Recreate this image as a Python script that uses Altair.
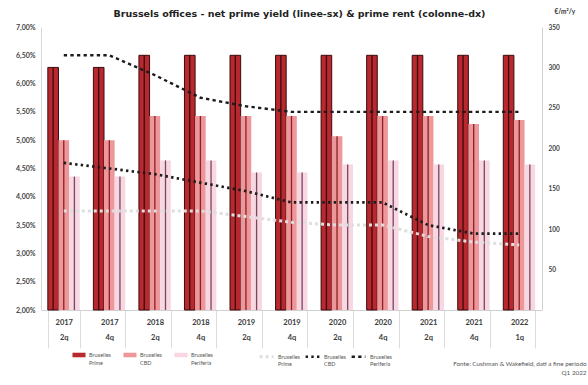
import altair as alt
import pandas as pd

FONT = "Lato"

periods = ["2017 2q", "2017 4q", "2018 2q", "2018 4q", "2019 2q", "2019 4q",
           "2020 2q", "2020 4q", "2021 2q", "2021 4q", "2022 1q"]

# prime rent, €/m²/year (right axis, columns)
bar_series = ["Bruxelles Prime", "Bruxelles CBD", "Bruxelles Periferia"]
rent_prime = [300, 300, 315, 315, 315, 315, 315, 315, 315, 315, 315]
rent_cbd = [210, 210, 240, 240, 240, 240, 215, 240, 240, 230, 235]
rent_periphery = [165, 165, 185, 185, 170, 170, 180, 185, 180, 185, 180]

# net prime yield, % (left axis, lines)
line_series = ["Bruxelles  Prime", "Bruxelles  CBD", "Bruxelles  Periferia"]
yield_prime = [3.75, 3.75, 3.75, 3.75, 3.65, 3.55, 3.50, 3.50, 3.30, 3.20, 3.15]
yield_cbd = [4.60, 4.50, 4.40, 4.25, 4.10, 3.90, 3.90, 3.90, 3.50, 3.35, 3.35]
yield_periphery = [6.50, 6.50, 6.15, 5.75, 5.60, 5.50, 5.50, 5.50, 5.50, 5.50, 5.50]

left_ticks = [2.0, 2.5, 3.0, 3.5, 4.0, 4.5, 5.0, 5.5, 6.0, 6.5, 7.0]
right_ticks = [50, 100, 150, 200, 250, 300, 350]

source_note = ["Fonte: Cushman & Wakefield, dati a fine periodo", "Q1 2022"]
title_text = "Brussels offices - net prime yield (linee-sx) & prime rent (colonne-dx)"

rows = []
for name, vals in zip(bar_series, [rent_prime, rent_cbd, rent_periphery]):
    for p, v in zip(periods, vals):
        rows.append({"period": p, "serie": name, "rent": v})
rent_df = pd.DataFrame(rows)

rows = []
for name, vals in zip(line_series, [yield_prime, yield_cbd, yield_periphery]):
    for p, v in zip(periods, vals):
        rows.append({"period": p, "curva": name, "yield": v})
yield_df = pd.DataFrame(rows)

x_enc = alt.X(
    "period:N",
    sort=periods,
    scale=alt.Scale(paddingInner=0.3, paddingOuter=0.15),
    axis=alt.Axis(
        title=source_note,
        titleFont=FONT, titleFontSize=6.3, titleFontWeight="normal",
        titleColor="#555555", titleAlign="right", titleAnchor="end",
        titleX=545, titleY=50, titleLineHeight=9,
        labelExpr="split(datum.label, ' ')",
        labelFont=FONT, labelFontSize=7.5, labelFontWeight="bold",
        labelColor="#3a3a3a", labelLineHeight=15, labelAngle=0,
        labelPadding=-30,
        tickBand="extent", tickSize=38, tickColor="#dcdcdc",
        domainColor="#d0d0d0",
    ),
)
xoff = alt.XOffset("serie:N", sort=bar_series, scale=alt.Scale(paddingInner=0))

bars = alt.Chart(rent_df).mark_bar(strokeWidth=1).encode(
    x=x_enc,
    xOffset=xoff,
    y=alt.Y(
        "rent:Q",
        scale=alt.Scale(domain=[0, 350], nice=False, zero=True),
        axis=alt.Axis(
            orient="right", values=right_ticks, title="€/m²/y",
            titleAngle=0, titleAlign="left", titleBaseline="middle",
            titleX=12, titleY=-16, titleFont=FONT, titleFontSize=6.5,
            titleFontWeight="bold", titleColor="#333333",
            labelFont=FONT, labelFontSize=6.5, labelFontWeight="bold",
            labelColor="#444444", labelPadding=6, ticks=False,
            domainColor="#d0d0d0", grid=False,
        ),
    ),
    fill=alt.Color(
        "serie:N", sort=bar_series,
        scale=alt.Scale(domain=bar_series, range=["#b8282f", "#ee979b", "#f7d7e1"]),
        legend=alt.Legend(
            orient="none", legendX=31, legendY=321, direction="horizontal",
            title=None, symbolType="M-1,-0.35H1V0.35H-1Z", symbolSize=170,
            symbolStrokeWidth=0, labelExpr="split(datum.label, ' ')",
            labelFont=FONT, labelFontSize=5.5, labelColor="#555555",
            labelOffset=3, columnPadding=12, labelLimit=80,
        ),
    ),
    stroke=alt.when(alt.datum.serie == "Bruxelles Prime")
    .then(alt.value("#3b0b0d"))
    .otherwise(alt.value("transparent")),
)

# darker right-hand edge on every column
edges = alt.Chart(rent_df).mark_bar(width=1.3, xOffset=4.6).encode(
    x=x_enc,
    xOffset=xoff,
    y=alt.Y("rent:Q", scale=alt.Scale(domain=[0, 350], nice=False), axis=None),
    fill=alt.when(alt.datum.serie == "Bruxelles Prime")
    .then(alt.value("#3b0b0d"))
    .when(alt.datum.serie == "Bruxelles CBD")
    .then(alt.value("#8a1f25"))
    .otherwise(alt.value("#7a4560")),
)

lines = alt.Chart(yield_df).mark_line(strokeCap="butt").encode(
    x=x_enc,
    y=alt.Y(
        "yield:Q",
        scale=alt.Scale(domain=[2, 7], nice=False, zero=False),
        axis=alt.Axis(
            orient="left", values=left_ticks, title=None,
            labelExpr="replace(format(datum.value, '.2f'), '.', ',') + '%'",
            labelFont=FONT, labelFontSize=7, labelFontWeight="bold",
            labelColor="#444444", labelPadding=6, ticks=False,
            domainColor="#d8d8d8", grid=False,
        ),
    ),
    stroke=alt.Color(
        "curva:N", sort=line_series,
        scale=alt.Scale(domain=line_series, range=["#dedede", "#1c1c1c", "#1c1c1c"]),
        legend=alt.Legend(
            orient="none", legendX=217, legendY=321, direction="horizontal",
            title=None, symbolType="stroke", symbolSize=190,
            symbolStrokeWidth=2.6, symbolDash=[3, 3],
            labelExpr="split(datum.label, '  ')",
            labelFont=FONT, labelFontSize=5.5, labelColor="#555555",
            labelOffset=3, columnPadding=0, labelLimit=80,
        ),
    ),
    strokeWidth=alt.StrokeWidth(
        "curva:N", sort=line_series,
        scale=alt.Scale(domain=line_series, range=[3.0, 2.4, 3.3]), legend=None,
    ),
    strokeDash=alt.StrokeDash(
        "curva:N", sort=line_series,
        scale=alt.Scale(domain=line_series, range=[[3, 3], [2.4, 3.3], [3.3, 3.3]]),
        legend=None,
    ),
    order=alt.Order("period:N"),
)

chart = (
    alt.layer(bars, edges, lines)
    .resolve_scale(y="independent")
    .properties(
        width=501,
        height=283,
        autosize=alt.AutoSizeParams(type="none"),
        padding={"left": 41, "top": 27, "right": 46, "bottom": 75},
        background="white",
        title=alt.TitleParams(
            title_text, font="DejaVu Sans", fontSize=9.5, fontWeight="bold",
            color="#222222", anchor="middle", dx=8, offset=-10,
        ),
    )
    .configure_view(stroke=None)
)

chart.save("out.html", embed_options={"renderer": "svg", "actions": False})
